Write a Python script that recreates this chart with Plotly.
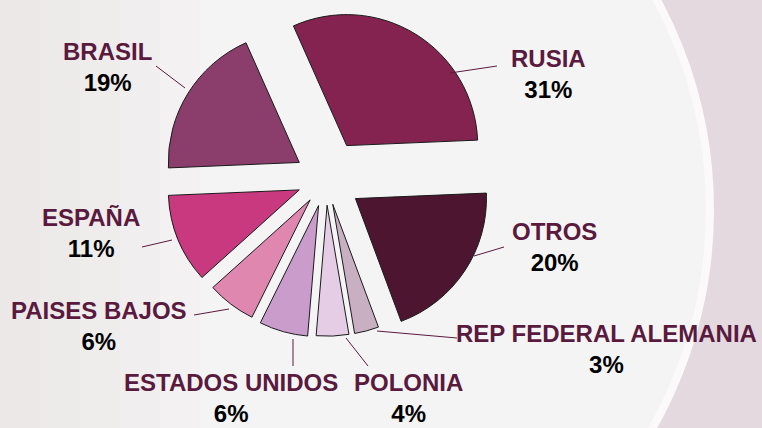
import plotly.graph_objects as go

# data
countries = ["RUSIA", "OTROS", "REP FEDERAL ALEMANIA", "POLONIA",
             "ESTADOS UNIDOS", "PAISES BAJOS", "ESPAÑA", "BRASIL"]
shares = [31, 20, 3, 4, 6, 6, 11, 19]

# styling
slice_colors = ["#84234F", "#4D1530", "#C9AFC2", "#E6CDE6",
                "#C99CCB", "#E087B0", "#C8397F", "#8B3D6C"]
pulls = [0.30, 0.27, 0.20, 0.20, 0.21, 0.20, 0.22, 0.24]
NAME_COLOR = "#5A1A3E"
W, H = 762, 428

# label block centres and leader lines, in pixels
label_pos = [(548, 74), (554, 247), (606, 349), (408, 398),
             (231, 398), (99, 326), (91, 233), (107, 67)]
leaders = [((450, 73), (497, 66)), ((474, 256), (504, 247)),
           ((377, 331), (457, 338)), ((346, 338), (368, 366)),
           ((293, 339), (293, 366)), ((194, 315), (229, 309)),
           ((142, 247), (172, 240)), ((156, 66), (185, 88))]


def px(x):
    return x / W


def py(y):
    return 1 - y / H


fig = go.Figure()
fig.add_trace(go.Pie(
    labels=countries,
    values=shares,
    sort=False,
    direction="clockwise",
    rotation=-24,
    pull=pulls,
    marker=dict(colors=slice_colors, line=dict(color="#1a1a1a", width=1)),
    textinfo="none",
    hoverinfo="label+percent",
    showlegend=False,
    domain=dict(x=[px(155.7), px(496.3)], y=[py(349.3), py(8.7)]),
))

shapes = []
# background: pale circle with white rim, pinkish edges
shapes.append(dict(type="circle", xref="paper", yref="paper", layer="below",
                   x0=px(268 - 442), x1=px(268 + 442), y0=py(210 + 442), y1=py(210 - 442),
                   fillcolor="#F5F4F5", line=dict(color="#FBF9FA", width=8)))
for i in range(5):
    shapes.append(dict(type="rect", xref="paper", yref="paper", layer="below",
                       x0=0, x1=px(40 * (i + 1)), y0=0, y1=1,
                       fillcolor="#D9C4CF", opacity=0.06, line=dict(width=0)))
for (x0, y0), (x1, y1) in leaders:
    shapes.append(dict(type="line", xref="paper", yref="paper",
                       x0=px(x0), y0=py(y0), x1=px(x1), y1=py(y1),
                       line=dict(color=NAME_COLOR, width=1)))

annotations = []
for name, val, (x, y) in zip(countries, shares, label_pos):
    annotations.append(dict(
        xref="paper", yref="paper", x=px(x), y=py(y),
        xanchor="center", yanchor="middle", showarrow=False, align="center",
        text=f"<b>{name}</b><br><b><span style='color:#000000'>{val}%</span></b>",
        font=dict(family="Liberation Sans, Arial, sans-serif", size=24, color=NAME_COLOR),
    ))

fig.update_layout(
    width=W, height=H,
    margin=dict(l=0, r=0, t=0, b=0),
    paper_bgcolor="#E4D9DE",
    plot_bgcolor="#E4D9DE",
    shapes=shapes,
    annotations=annotations,
)
fig.write_html("out.html", config={"displayModeBar": False},
               post_script="document.body.style.margin='0';document.body.style.overflow='hidden';")
